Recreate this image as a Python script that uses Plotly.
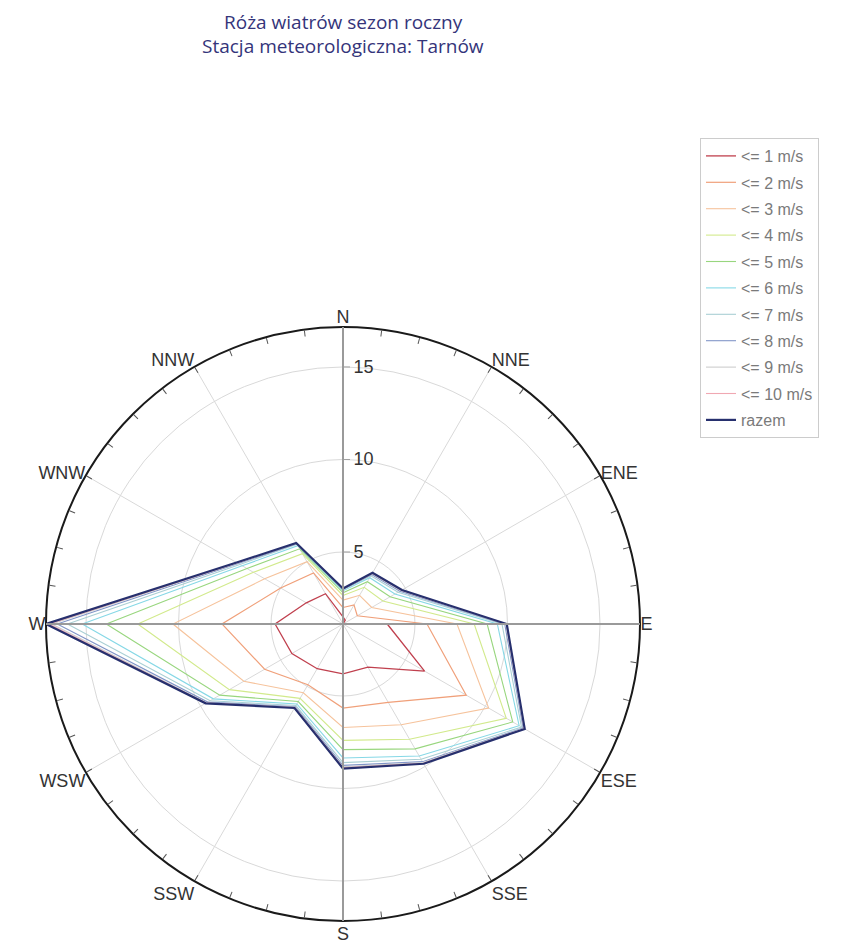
import plotly.graph_objects as go

directions = ["N", "NNE", "ENE", "E", "ESE", "SSE", "S", "SSW", "WSW", "W", "WNW", "NNW"]

series_names = ["&lt;= 1 m/s", "&lt;= 2 m/s", "&lt;= 3 m/s", "&lt;= 4 m/s", "&lt;= 5 m/s",
                "&lt;= 6 m/s", "&lt;= 7 m/s", "&lt;= 8 m/s", "&lt;= 9 m/s", "&lt;= 10 m/s", "razem"]

title_lines = ["Róża wiatrów sezon roczny", "Stacja meteorologiczna: Tarnów"]

le1 = [1.50, 1.35, 1.11, 3.50, 6.20, 3.80, 3.80, 3.90, 4.30, 4.78, 3.40, 3.00]
le2 = [2.00, 2.30, 2.00, 5.65, 8.80, 6.00, 5.65, 4.90, 6.00, 7.65, 5.00, 4.30]
le3 = [2.40, 2.90, 2.90, 7.27, 10.20, 7.40, 6.70, 5.40, 7.30, 10.30, 6.00, 5.00]
le4 = [2.65, 3.40, 3.60, 8.20, 11.30, 8.30, 7.40, 5.75, 8.20, 12.20, 6.70, 5.50]
le5 = [2.80, 3.75, 4.05, 8.90, 11.70, 8.90, 7.90, 5.95, 8.80, 13.90, 7.10, 5.80]
le6 = [2.90, 4.00, 4.35, 9.45, 12.10, 9.35, 8.35, 6.10, 9.20, 15.20, 7.40, 6.00]
le7 = [2.96, 4.12, 4.55, 9.70, 12.25, 9.55, 8.60, 6.20, 9.40, 16.00, 7.55, 6.08]
le8 = [2.99, 4.20, 4.66, 9.85, 12.35, 9.70, 8.75, 6.27, 9.55, 16.55, 7.65, 6.12]
le9 = [3.01, 4.25, 4.72, 9.91, 12.40, 9.76, 8.83, 6.31, 9.62, 16.85, 7.70, 6.15]
le10 = [3.02, 4.28, 4.76, 9.94, 12.43, 9.80, 8.88, 6.33, 9.65, 17.00, 7.72, 6.16]
razem = [3.03, 4.30, 4.79, 9.96, 12.45, 9.83, 8.92, 6.35, 9.68, 17.16, 7.75, 6.17]

radial_ticks = [5, 10, 15]

all_series = [le1, le2, le3, le4, le5, le6, le7, le8, le9, le10, razem]
colors = ["#c0404e", "#f0a07a", "#f6c39c", "#d2ea8c", "#98d67e",
          "#86d8e6", "#a9cfd4", "#8296c8", "#cdcdcd", "#f0a8b2", "#27306e"]
widths = [1.3, 1.2, 1.1, 1.1, 1.1, 1.1, 1.1, 1.1, 1.1, 1.1, 2.2]

vmin = min(min(s) for s in all_series)
vmax = max(max(s) for s in all_series)

fig = go.Figure()
for name, vals, col, w in zip(series_names, all_series, colors, widths):
    fig.add_trace(go.Scatterpolar(
        r=vals + vals[:1], theta=directions + directions[:1],
        mode="lines", name=name, legendgroup=name,
        line=dict(color=col, width=w), subplot="polar"))

# helper overlays (outer ring with minor ticks, thick cardinal spokes)
fig.add_trace(go.Scatterpolar(r=[0.5], theta=[0], mode="markers", marker=dict(opacity=0),
                              showlegend=False, hoverinfo="skip", subplot="polar2"))
fig.add_trace(go.Scatterpolar(r=[0.5], theta=[0], mode="markers", marker=dict(opacity=0),
                              showlegend=False, hoverinfo="skip", subplot="polar3"))

W, H = 862, 950
off = 8  # page body margin
cx, cy, R = 343 - off, 624 - off, 297
dom_x = [(cx - R) / W, (cx + R) / W]
dom_y = [(H - (cy + R)) / H, (H - (cy - R)) / H]

title_y = [22 - off, 46 - off]
for txt, ty in zip(title_lines, title_y):
    fig.add_annotation(text=txt, xref="paper", yref="paper", x=cx / W, y=1 - ty / H,
                       xanchor="center", yanchor="middle", showarrow=False,
                       font=dict(family="Open Sans, sans-serif", size=19, color="#34347a"))

fig.update_layout(
    width=W, height=H,
    margin=dict(l=0, r=0, t=0, b=0),
    paper_bgcolor="white",
    font=dict(family="Liberation Sans, Arial, sans-serif"),
    polar=dict(
        domain=dict(x=dom_x, y=dom_y),
        bgcolor="white",
        angularaxis=dict(type="category", categoryarray=directions, direction="clockwise",
                         rotation=90, showline=False, gridcolor="#d9d9d9", gridwidth=1,
                         ticks="", tickfont=dict(size=18, color="#333333")),
        radialaxis=dict(range=[vmin, vmax], tickvals=radial_ticks, angle=90,
                        side="clockwise", showline=True, linecolor="#a0a0a0", linewidth=2,
                        gridcolor="#d9d9d9", ticks="outside", ticklen=6, tickcolor="#a0a0a0",
                        tickfont=dict(size=18, color="#333333"), tickangle=90),
    ),
    polar2=dict(
        domain=dict(x=dom_x, y=dom_y),
        bgcolor="rgba(0,0,0,0)",
        angularaxis=dict(direction="clockwise", rotation=90, thetaunit="degrees",
                         showline=True, linecolor="#1a1a1a", linewidth=2,
                         ticks="inside", ticklen=6, tickcolor="#555555", dtick=7.5,
                         showticklabels=False, showgrid=False),
        radialaxis=dict(visible=False, range=[0, 1]),
    ),
    polar3=dict(
        domain=dict(x=dom_x, y=dom_y),
        bgcolor="rgba(0,0,0,0)",
        angularaxis=dict(direction="clockwise", rotation=90, thetaunit="degrees",
                         showline=False, ticks="", tickvals=[0, 90, 180, 270],
                         showticklabels=False, showgrid=True, gridcolor="#9a9a9a", gridwidth=2),
        radialaxis=dict(visible=False, range=[0, 1]),
    ),
    legend=dict(x=(700 - off) / W, y=1 - (138 - off) / H, xanchor="left", yanchor="top",
                bordercolor="#cccccc", borderwidth=1, bgcolor="white",
                font=dict(size=16, color="#7a7a7a"), itemwidth=30,
                tracegroupgap=2.6),
    showlegend=True,
)

fig.write_html("out.html")
